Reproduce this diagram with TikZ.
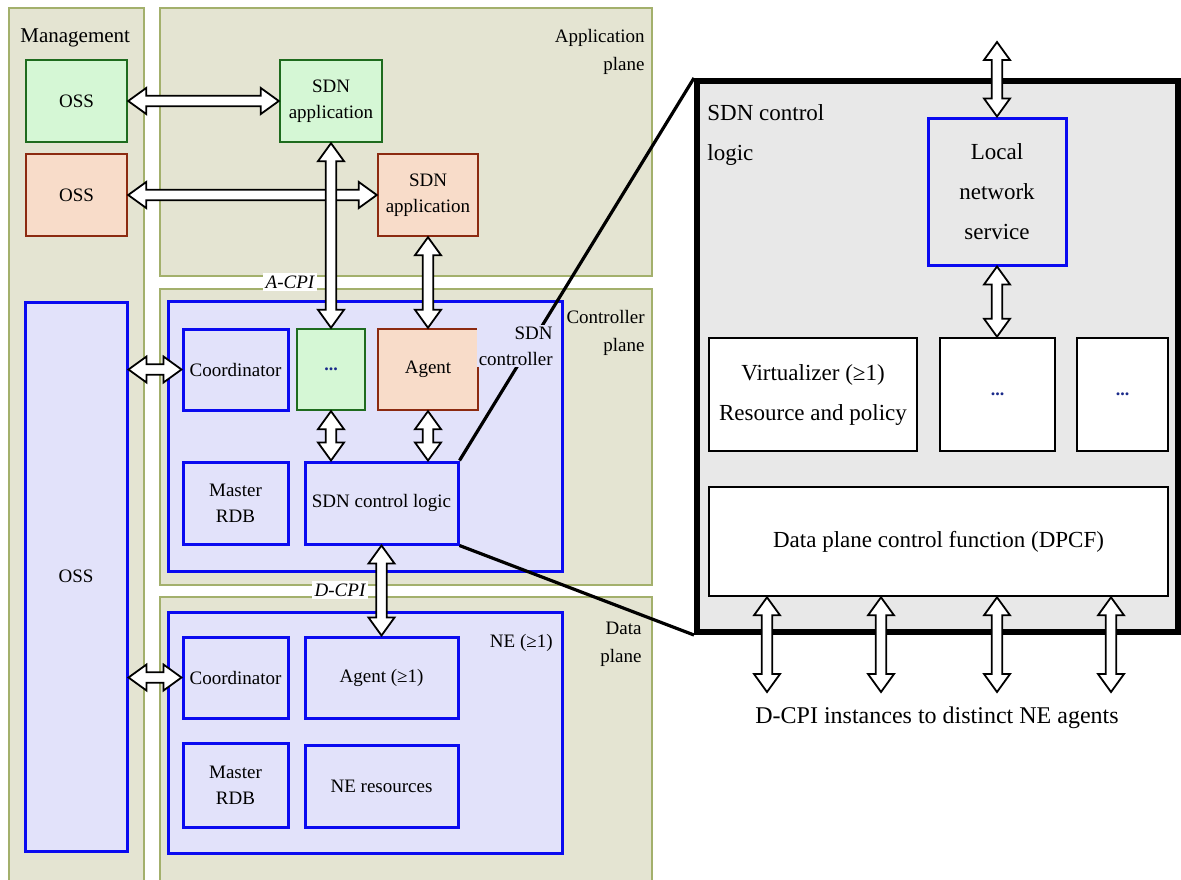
\documentclass[tikz,border=0pt]{standalone}
\usepackage{fontspec}
\setmainfont{Liberation Serif}
\usetikzlibrary{calc}
\definecolor{planefill}{HTML}{E4E4D2}
\definecolor{planeline}{HTML}{A3B06C}
\definecolor{bluefill}{HTML}{E2E2FA}
\definecolor{blueline}{HTML}{0A0AF0}
\definecolor{greenfill}{HTML}{D5F7D5}
\definecolor{greenline}{HTML}{1E6B1E}
\definecolor{orangefill}{HTML}{F8DCC9}
\definecolor{orangeline}{HTML}{8C2A10}
\definecolor{panelgray}{HTML}{E8E8E8}
\definecolor{dotblue}{HTML}{1A2A8A}
\newcommand\leftfont{\fontsize{9.5}{13}\selectfont}
\newcommand\titlefont{\fontsize{9.5}{14}\selectfont}
\newcommand\rightfont{\fontsize{11.5}{20}\selectfont}
\newcommand\dotsmark{{\fontsize{9}{10}\selectfont\bfseries\color{dotblue}...}}
\newcommand\bihead{9pt}
\newcommand\biwidth{6.5pt}
\newcommand\bishaft{2.6pt}
\tikzset{
    sz/.style 2 args={minimum width=#1*0.5pt, minimum height=#2*0.5pt, inner sep=0pt},
    plane/.style={draw=planeline, fill=planefill, line width=1.2pt},
    bluebox/.style={draw=blueline, fill=bluefill, line width=1.5pt, align=center, font=\leftfont},
    greenbox/.style={draw=greenline, fill=greenfill, line width=1.2pt, align=center, font=\leftfont},
    orangebox/.style={draw=orangeline, fill=orangefill, line width=1.2pt, align=center, font=\leftfont},
    whitebox/.style={draw=black, fill=white, line width=1.3pt, align=center, font=\rightfont},
    zoompanel/.style={draw=black, fill=panelgray, line width=3pt},
    planetitle/.style={font=\titlefont, align=right, anchor=east, inner sep=1pt},
    cpilabel/.style={font=\leftfont\itshape, fill=white, inner sep=1.5pt},
    leader/.style={draw=black, line width=1.6pt},
    biarrowline/.style={draw=black, fill=white, line width=0.9pt, line join=miter},
}
% hollow two-headed arrow between two points
\newcommand\biarrow[2]{%
    \coordinate (ba) at #1;
    \coordinate (bb) at #2;
    \coordinate (bqa) at ($(ba)!\bihead!(bb)$);
    \coordinate (bqb) at ($(bb)!\bihead!(ba)$);
    \filldraw[biarrowline] (ba) -- ($(bqa)!\biwidth!90:(bb)$) -- ($(bqa)!\bishaft!90:(bb)$)
        -- ($(bqb)!\bishaft!-90:(ba)$) -- ($(bqb)!\biwidth!-90:(ba)$) -- (bb)
        -- ($(bqb)!\biwidth!90:(ba)$) -- ($(bqb)!\bishaft!90:(ba)$)
        -- ($(bqa)!\bishaft!-90:(bb)$) -- ($(bqa)!\biwidth!-90:(bb)$) -- cycle;
}
\begin{document}
\begin{tikzpicture}[x=0.5pt, y=-0.5pt]
\useasboundingbox (0,0) rectangle (1181,879);
% planes
\begin{scope}
\clip (0,0) rectangle (1181,879);
\draw[plane] (9,8) rectangle (144,890);
\draw[plane] (160,8) rectangle (652,276);
\draw[plane] (160,289) rectangle (652,585);
\draw[plane] (160,597) rectangle (652,890);
\end{scope}
\node[font=\fontsize{10.5}{14}\selectfont, anchor=west, inner sep=1pt] (mgmtT) at (18,38) {Management};
\node[planetitle] (appT) at (647,52) {Application\\plane};
\node[planetitle] (ctrlT) at (647,333) {Controller\\plane};
\node[planetitle] (dataT) at (644,644) {Data\\plane};
% management
\node[greenbox, sz={101}{82}] (ossA) at (76.5,101) {OSS};
\node[orangebox, sz={101}{82}] (ossB) at (76.5,195) {OSS};
\node[bluebox, sz={102}{549}] (ossC) at (76,576.5) {OSS};
% application plane
\node[greenbox, sz={102}{82}] (appA) at (331,101) {SDN\\application};
\node[orangebox, sz={100}{82}] (appB) at (428,195) {SDN\\application};
% controller plane
\node[bluebox, sz={394}{270}] (ctrl) at (365,436) {};
\node[bluebox, sz={105}{81}] (coordC) at (235.5,369.5) {Coordinator};
\node[greenbox, sz={68}{81}] (dotsC) at (331,369.5) {\dotsmark};
\node[orangebox, sz={100}{81}] (agentC) at (428,369.5) {Agent};
\node[bluebox, sz={105}{82}] (rdbC) at (235.5,503) {Master\\RDB};
\node[bluebox, sz={153}{82}] (logicC) at (381.5,503) {SDN control logic};
% data plane
\node[bluebox, sz={394}{241}] (ne) at (365,732.5) {};
\node[font=\leftfont, anchor=east, inner sep=1pt] (neT) at (555,643) {NE (≥1)};
\node[bluebox, sz={105}{81}] (coordD) at (235.5,677.5) {Coordinator};
\node[bluebox, sz={153}{81}] (agentD) at (381.5,677.5) {Agent (≥1)};
\node[bluebox, sz={105}{84}] (rdbD) at (235.5,785) {Master\\RDB};
\node[bluebox, sz={153}{82}] (resD) at (381.5,786) {NE resources};
\node[cpilabel] (acpi) at (290,282) {A-CPI};
\node[cpilabel] (dcpi) at (340,590) {D-CPI};
% zoomed control logic
\node[zoompanel, sz={481}{551}] (zoomP) at (937.5,356.5) {};
\draw[leader] (logicC.north east) -- (zoomP.north west);
\draw[leader] (logicC.south east) -- (zoomP.south west);
\node[font=\leftfont, align=right, anchor=east, fill=bluefill, inner sep=1pt] (ctrlL) at (555,346) {SDN\\controller};
\node[font=\rightfont, align=left, anchor=west, inner sep=1pt] (zoomT) at (705,135) {SDN control\\logic};
\node[draw=blueline, fill=panelgray, line width=1.5pt, align=center, font=\rightfont, sz={138}{147}] (lns) at (997,191.5) {Local\\network\\service};
\node[whitebox, sz={208}{113}] (virt) at (813,394.5) {Virtualizer (≥1)\\Resource and policy};
\node[whitebox, sz={115}{113}] (dotsR1) at (997.5,394.5) {\dotsmark};
\node[whitebox, sz={91}{113}] (dotsR2) at (1122.5,394.5) {\dotsmark};
\node[whitebox, sz={459}{109}] (dpcf) at (938.5,541.5) {Data plane control function (DPCF)};
\node[font=\fontsize{12}{14}\selectfont] (instT) at (937,718) {D-CPI instances to distinct NE agents};
% interfaces
\biarrow{(ossA.east)}{(appA.west)}
\biarrow{(ossB.east)}{(appB.west)}
\biarrow{(appA.south)}{(dotsC.north)}
\biarrow{(appB.south)}{(agentC.north)}
\biarrow{(dotsC.south)}{(dotsC.south |- logicC.north)}
\biarrow{(agentC.south)}{(agentC.south |- logicC.north)}
\biarrow{(logicC.south)}{(agentD.north)}
\biarrow{(ossC.east |- coordC.west)}{(coordC.west)}
\biarrow{(ossC.east |- coordD.west)}{(coordD.west)}
\coordinate (lnsTop) at (997,42);
\biarrow{(lnsTop)}{(lns.north)}
\biarrow{(lns.south)}{(lns.south |- dotsR1.north)}
\foreach \i/\x in {1/767,2/881,3/997,4/1111}{
    \coordinate (dcpi\i) at (\x,692);
    \biarrow{(dpcf.south -| dcpi\i)}{(dcpi\i)}
}
\end{tikzpicture}
\end{document}
